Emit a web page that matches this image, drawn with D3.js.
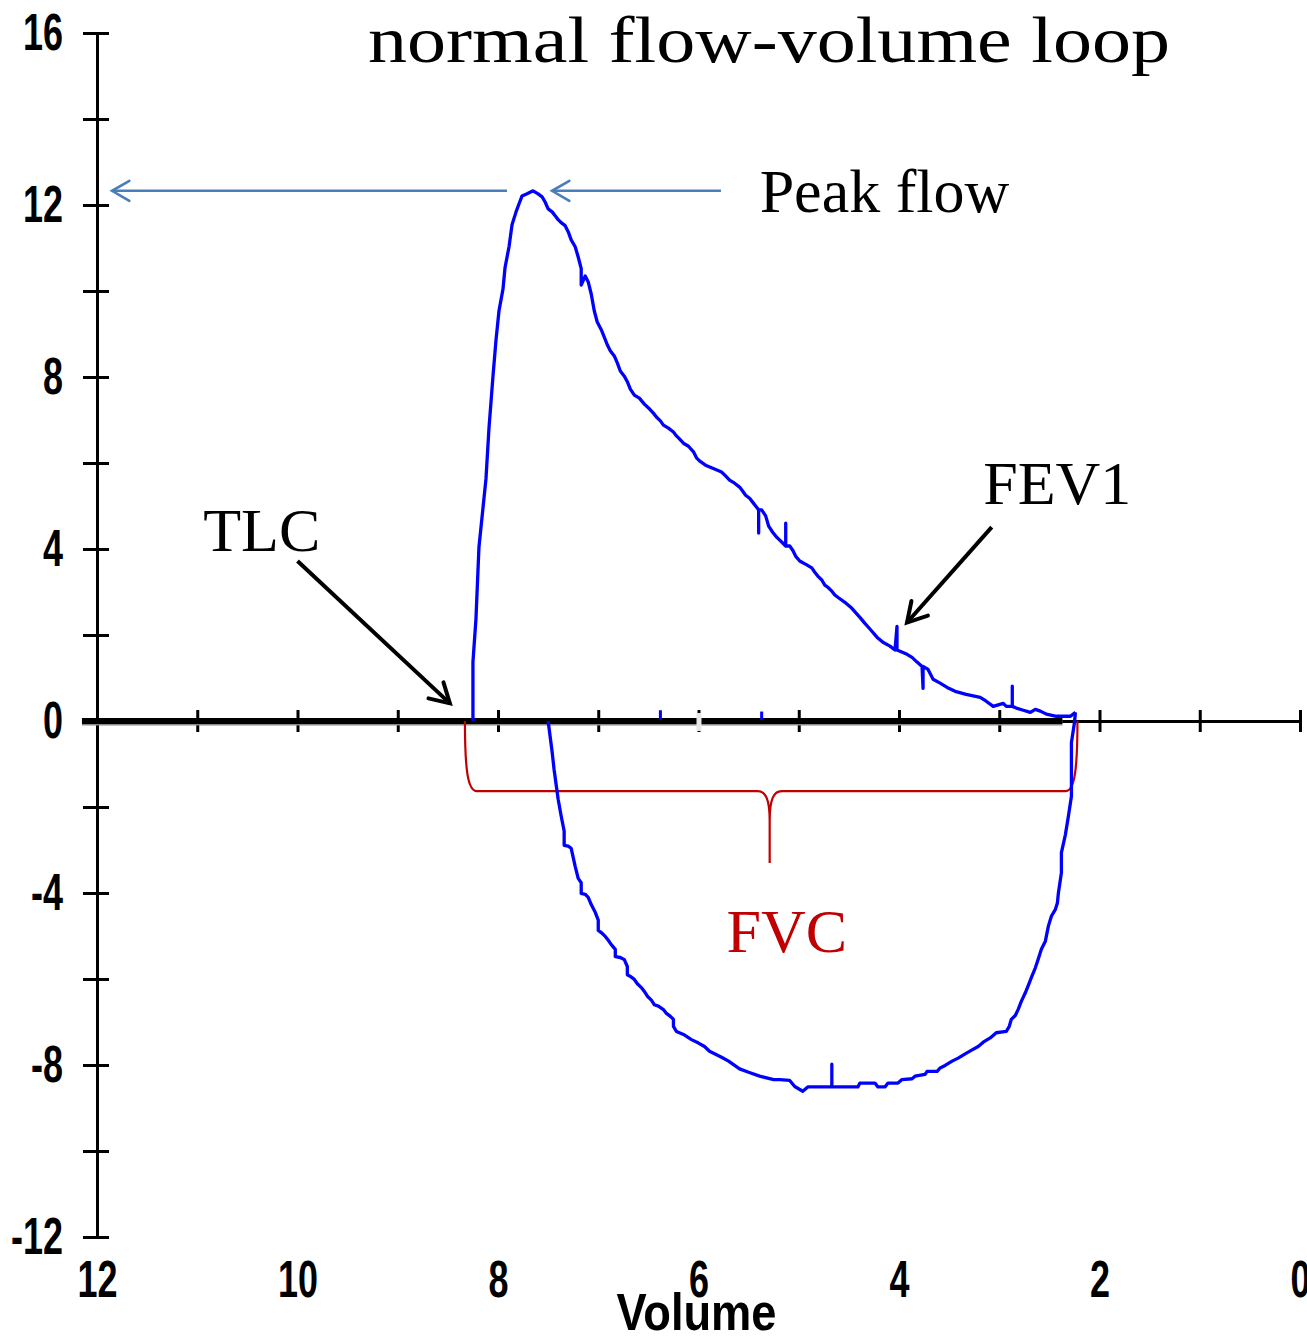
<!DOCTYPE html>
<html>
<head>
<meta charset="utf-8">
<script src="https://cdn.jsdelivr.net/npm/d3@7"></script>
<style>
  html, body { margin: 0; padding: 0; background: #fff; }
  svg { display: block; }
</style>
</head>
<body>
<div id="chart"></div>
<script>
// expiratory limb: [volume, flow], TLC -> RV
const expiration = [
  [8.25, 0], [8.25, 1.37], [8.22, 2.37], [8.19, 4.04], [8.15, 4.95], [8.12, 5.63], [8.09, 6.81],
  [8.05, 8.02], [8.02, 8.86], [7.99, 9.54], [7.95, 10.05], [7.93, 10.54], [7.89, 11.03], [7.86, 11.54],
  [7.82, 11.84], [7.79, 12.03], [7.76, 12.21], [7.71, 12.26], [7.65, 12.33], [7.60, 12.26], [7.56, 12.19],
  [7.53, 12.07], [7.50, 11.91], [7.46, 11.84], [7.43, 11.75], [7.40, 11.66], [7.37, 11.59], [7.33, 11.52],
  [7.30, 11.38], [7.27, 11.19], [7.23, 11.03], [7.20, 10.79], [7.17, 10.52], [7.17, 10.14], [7.13, 10.35],
  [7.10, 10.21], [7.07, 9.93], [7.04, 9.54], [7.01, 9.28], [6.97, 9.10], [6.94, 8.93], [6.91, 8.75],
  [6.88, 8.61], [6.84, 8.49], [6.81, 8.33], [6.78, 8.14], [6.74, 8.02], [6.71, 7.89], [6.68, 7.72],
  [6.64, 7.58], [6.59, 7.51], [6.54, 7.37], [6.49, 7.26], [6.45, 7.16], [6.42, 7.07], [6.38, 6.98],
  [6.35, 6.88], [6.30, 6.81], [6.25, 6.72], [6.22, 6.63], [6.19, 6.56], [6.15, 6.46], [6.10, 6.39],
  [6.05, 6.26], [6.02, 6.12], [5.99, 6.05], [5.93, 5.95], [5.84, 5.86], [5.77, 5.79], [5.73, 5.70],
  [5.69, 5.60], [5.64, 5.53], [5.59, 5.44], [5.56, 5.35], [5.53, 5.25], [5.49, 5.18], [5.46, 5.09],
  [5.43, 5.00], [5.40, 4.91], [5.40, 4.37], [5.40, 4.91], [5.37, 4.91], [5.33, 4.77], [5.30, 4.53],
  [5.26, 4.39], [5.23, 4.30], [5.20, 4.23], [5.16, 4.14], [5.13, 4.07], [5.13, 4.60], [5.13, 4.07],
  [5.09, 4.07], [5.06, 3.97], [5.03, 3.83], [4.99, 3.72], [4.92, 3.63], [4.87, 3.56], [4.84, 3.46],
  [4.81, 3.37], [4.77, 3.28], [4.74, 3.16], [4.71, 3.11], [4.67, 3.02], [4.64, 2.93], [4.60, 2.86],
  [4.54, 2.76], [4.47, 2.62], [4.39, 2.41], [4.34, 2.27], [4.29, 2.14], [4.22, 1.95], [4.16, 1.83],
  [4.09, 1.74], [4.04, 1.65], [4.02, 2.20], [4.02, 1.65], [3.99, 1.62], [3.92, 1.55], [3.87, 1.48],
  [3.82, 1.37], [3.77, 1.27], [3.76, 0.76], [3.76, 1.27], [3.71, 1.20], [3.66, 0.97], [3.59, 0.88],
  [3.52, 0.78], [3.44, 0.69], [3.33, 0.62], [3.19, 0.55], [3.13, 0.46], [3.06, 0.34], [2.96, 0.41],
  [2.93, 0.34], [2.87, 0.34], [2.87, 0.81], [2.87, 0.34], [2.83, 0.30], [2.76, 0.25], [2.69, 0.20],
  [2.64, 0.27], [2.59, 0.23], [2.53, 0.16], [2.43, 0.11], [2.29, 0.11], [2.24, 0.20]
];

// inspiratory limb: [volume, flow], RV -> back toward TLC
const inspiration = [
  [2.24, 0.20], [2.25, -0.04], [2.28, -0.50], [2.28, -1.75], [2.31, -2.21], [2.34, -2.64], [2.38, -3.06],
  [2.38, -3.53], [2.41, -4.00], [2.42, -4.23], [2.44, -4.38], [2.48, -4.54], [2.51, -4.77], [2.54, -5.12],
  [2.58, -5.31], [2.61, -5.53], [2.64, -5.74], [2.68, -5.97], [2.71, -6.15], [2.74, -6.32], [2.78, -6.52],
  [2.81, -6.70], [2.84, -6.85], [2.88, -6.94], [2.90, -7.10], [2.93, -7.22], [3.03, -7.25], [3.09, -7.37],
  [3.16, -7.47], [3.21, -7.57], [3.28, -7.66], [3.34, -7.74], [3.41, -7.84], [3.47, -7.91], [3.54, -8.01],
  [3.59, -8.07], [3.62, -8.15], [3.72, -8.15], [3.74, -8.22], [3.84, -8.26], [3.87, -8.32], [3.97, -8.34],
  [4.01, -8.42], [4.11, -8.42], [4.14, -8.51], [4.21, -8.51], [4.24, -8.42], [4.39, -8.42], [4.41, -8.51],
  [4.67, -8.51], [4.67, -7.98], [4.67, -8.51], [4.91, -8.51], [4.96, -8.61], [5.04, -8.50], [5.09, -8.36],
  [5.19, -8.34], [5.25, -8.34], [5.39, -8.26], [5.50, -8.17], [5.59, -8.09], [5.64, -8.01], [5.70, -7.91],
  [5.77, -7.82], [5.84, -7.74], [5.89, -7.68], [5.94, -7.57], [6.00, -7.49], [6.07, -7.41], [6.15, -7.29],
  [6.22, -7.22], [6.25, -7.10], [6.25, -6.94], [6.28, -6.87], [6.32, -6.80], [6.35, -6.71], [6.40, -6.63],
  [6.44, -6.60], [6.47, -6.49], [6.51, -6.40], [6.54, -6.29], [6.57, -6.20], [6.61, -6.11], [6.64, -6.01],
  [6.68, -5.94], [6.71, -5.90], [6.71, -5.71], [6.74, -5.55], [6.78, -5.50], [6.83, -5.48], [6.83, -5.31],
  [6.87, -5.20], [6.90, -5.10], [6.93, -5.01], [6.97, -4.92], [7.00, -4.87], [7.00, -4.63], [7.03, -4.45],
  [7.07, -4.27], [7.10, -4.10], [7.13, -4.03], [7.17, -4.01], [7.17, -3.76], [7.20, -3.66], [7.23, -3.38],
  [7.27, -2.96], [7.30, -2.91], [7.34, -2.89], [7.34, -2.56], [7.37, -2.21], [7.40, -1.82], [7.44, -1.14],
  [7.46, -0.72], [7.50, 0]
];

// tiny trace marks sitting on the zero line
const blips = [[6.38, 0.25], [5.37, 0.22]];

const yTicks = d3.range(-12, 17, 2);
const yLabels = [16, 12, 8, 4, 0, -4, -8, -12];
const xTicks = d3.range(0, 13, 1);
const xLabels = [12, 10, 8, 6, 4, 2, 0];

const titleText = "normal flow-volume loop";
const xTitle = "Volume";

// annotations in data units
const peakFlow = 12.33;
const peakArrowLeft = [7.91, 11.85];   // volume from -> to
const peakArrowRight = [5.776, 7.461];
const tlcArrow = [[10.0, 3.72], [8.48, 0.41]];
const fev1Arrow = [[3.075, 4.51], [3.92, 2.29]];
const fvcRange = [8.33, 2.22];
const fvcBraceFlow = -1.63;
const fvcTip = [5.29, -3.30];

const annoText = ["Peak flow", "TLC", "FEV1", "FVC"];
const annoVolume = [5.39, 10.94, 3.16, 5.72];
const annoFlow = [11.84, 3.95, 5.04, -5.38];
const annoColor = ["#000", "#000", "#000", "#c00000"];

const W = 1307, H = 1340;
const svg = d3.select("#chart").append("svg")
  .attr("width", W).attr("height", H);

const x = d3.scaleLinear().domain([12, 0]).range([97, 1300]);
const y = d3.scaleLinear().domain([16, -12]).range([33, 1237]);

const axisFont = "'Liberation Sans Narrow', 'Arial Narrow', 'Liberation Sans', Arial, sans-serif";
const serif = "'Liberation Serif', 'Times New Roman', serif";

// y axis
const yAxis = svg.append("g")
  .attr("transform", `translate(${x(12)},0)`)
  .call(d3.axisLeft(y).tickValues(yTicks).tickSizeInner(14).tickSizeOuter(0).tickPadding(20)
    .tickFormat(d => yLabels.includes(d) ? String(d) : ""));
yAxis.select(".domain").attr("stroke", "#000").attr("stroke-width", 3);
yAxis.selectAll(".tick line").attr("x1", -14).attr("x2", 12).attr("stroke-width", 3);
yAxis.selectAll(".tick text")
  .attr("font-family", axisFont).attr("font-size", 52).attr("font-weight", "bold").attr("fill", "#000")
  .each(function(d) {
    const s = String(d);
    const len = s.replace("-", "").length * 20 + (d < 0 ? 12 : 0);
    d3.select(this).attr("textLength", len).attr("lengthAdjust", "spacingAndGlyphs");
  });

// zero flow line with ticks
const zAxis = svg.append("g")
  .attr("transform", `translate(0,${y(0)})`)
  .call(d3.axisBottom(x).tickValues(xTicks).tickSizeInner(11).tickSizeOuter(0).tickFormat(""));
zAxis.select(".domain").attr("stroke", "#000").attr("stroke-width", 3);
zAxis.selectAll(".tick line").attr("y1", -11).attr("y2", 11).attr("stroke-width", 3);

// heavy baseline drawn by the spirometer
svg.append("line")
  .attr("x1", x(12.15)).attr("x2", x(2.37))
  .attr("y1", y(0) + 1.5).attr("y2", y(0) + 1.5)
  .attr("stroke", "#8a8a8a").attr("stroke-width", 6);
svg.append("line")
  .attr("x1", x(12.15)).attr("x2", x(2.37))
  .attr("y1", y(0)).attr("y2", y(0))
  .attr("stroke", "#000").attr("stroke-width", 6);
// the faded mark at 6
svg.append("rect")
  .attr("x", x(6) - 2).attr("y", y(0) - 8).attr("width", 5).attr("height", 18)
  .attr("fill", "#e8e8e8");

// bottom labels
const xAxis = svg.append("g")
  .attr("transform", `translate(0,${y(-12)})`)
  .call(d3.axisBottom(x).tickValues(xLabels).tickSize(0).tickPadding(23).tickFormat(d => String(d)));
xAxis.select(".domain").remove();
xAxis.selectAll(".tick text")
  .attr("font-family", axisFont).attr("font-size", 52).attr("font-weight", "bold").attr("fill", "#000")
  .attr("textLength", d => String(d).length * 20).attr("lengthAdjust", "spacingAndGlyphs");

svg.append("text")
  .attr("x", x(6) - 2).attr("y", y(-12) + 93)
  .attr("text-anchor", "middle")
  .attr("font-family", axisFont).attr("font-size", 52).attr("font-weight", "bold")
  .attr("textLength", 160).attr("lengthAdjust", "spacingAndGlyphs")
  .text(xTitle);

// title
svg.append("text")
  .attr("x", 368).attr("y", 62)
  .attr("font-family", serif).attr("font-size", 66)
  .attr("textLength", 802).attr("lengthAdjust", "spacingAndGlyphs")
  .text(titleText);

// FVC brace
const bx0 = x(fvcRange[0]), bx1 = x(fvcRange[1]), by = y(fvcBraceFlow), braceTop = y(0);
const tx = x(fvcTip[0]), ty = y(fvcTip[1]);
const brace = d3.path();
brace.moveTo(bx0, braceTop);
brace.bezierCurveTo(bx0, by - 20, bx0 + 3, by, bx0 + 12, by);
brace.lineTo(tx - 12, by);
brace.bezierCurveTo(tx - 4, by, tx, by + 8, tx, by + 30);
brace.lineTo(tx, ty);
brace.lineTo(tx, by + 30);
brace.bezierCurveTo(tx, by + 8, tx + 4, by, tx + 12, by);
brace.lineTo(bx1 - 12, by);
brace.bezierCurveTo(bx1 - 3, by, bx1, by - 20, bx1, braceTop);
svg.append("path")
  .attr("d", brace.toString())
  .attr("fill", "none").attr("stroke", "#c00000").attr("stroke-width", 2.2);

// loop
const line = d3.line().x(d => x(d[0])).y(d => y(d[1]));
[expiration, inspiration].forEach(series => {
  svg.append("path")
    .datum(series)
    .attr("d", line)
    .attr("fill", "none").attr("stroke", "#0000ff")
    .attr("stroke-width", 3.3).attr("stroke-linejoin", "round");
});
svg.selectAll(".blip").data(blips).enter().append("line")
  .attr("class", "blip")
  .attr("x1", d => x(d[0])).attr("x2", d => x(d[0]))
  .attr("y1", y(0) - 1).attr("y2", d => y(d[1]))
  .attr("stroke", "#0000ff").attr("stroke-width", 3);

// arrows
function arrow(x1, y1, x2, y2, color, width, arm, spread) {
  const g = svg.append("g");
  g.append("line")
    .attr("x1", x1).attr("y1", y1).attr("x2", x2).attr("y2", y2)
    .attr("stroke", color).attr("stroke-width", width);
  const a = Math.atan2(y1 - y2, x1 - x2);
  const pts = [
    [x2 + arm * Math.cos(a + spread), y2 + arm * Math.sin(a + spread)],
    [x2, y2],
    [x2 + arm * Math.cos(a - spread), y2 + arm * Math.sin(a - spread)]
  ];
  g.append("path")
    .attr("d", d3.line()(pts))
    .attr("fill", "none").attr("stroke", color).attr("stroke-width", width)
    .attr("stroke-linecap", "round").attr("stroke-linejoin", "miter");
}

const blue = "#4a7ebb";
arrow(x(peakArrowLeft[0]), y(peakFlow), x(peakArrowLeft[1]), y(peakFlow), blue, 2.6, 20, Math.PI / 6);
arrow(x(peakArrowRight[0]), y(peakFlow), x(peakArrowRight[1]), y(peakFlow), blue, 2.6, 20, Math.PI / 6);
arrow(x(tlcArrow[0][0]), y(tlcArrow[0][1]), x(tlcArrow[1][0]), y(tlcArrow[1][1]), "#000", 4, 22, Math.PI / 6);
arrow(x(fev1Arrow[0][0]), y(fev1Arrow[0][1]), x(fev1Arrow[1][0]), y(fev1Arrow[1][1]), "#000", 4, 22, Math.PI / 6);

// annotation labels
annoText.forEach((t, i) => {
  svg.append("text")
    .attr("x", x(annoVolume[i])).attr("y", y(annoFlow[i]))
    .attr("font-family", serif).attr("font-size", 62)
    .attr("fill", annoColor[i])
    .text(t);
});
</script>
</body>
</html>
